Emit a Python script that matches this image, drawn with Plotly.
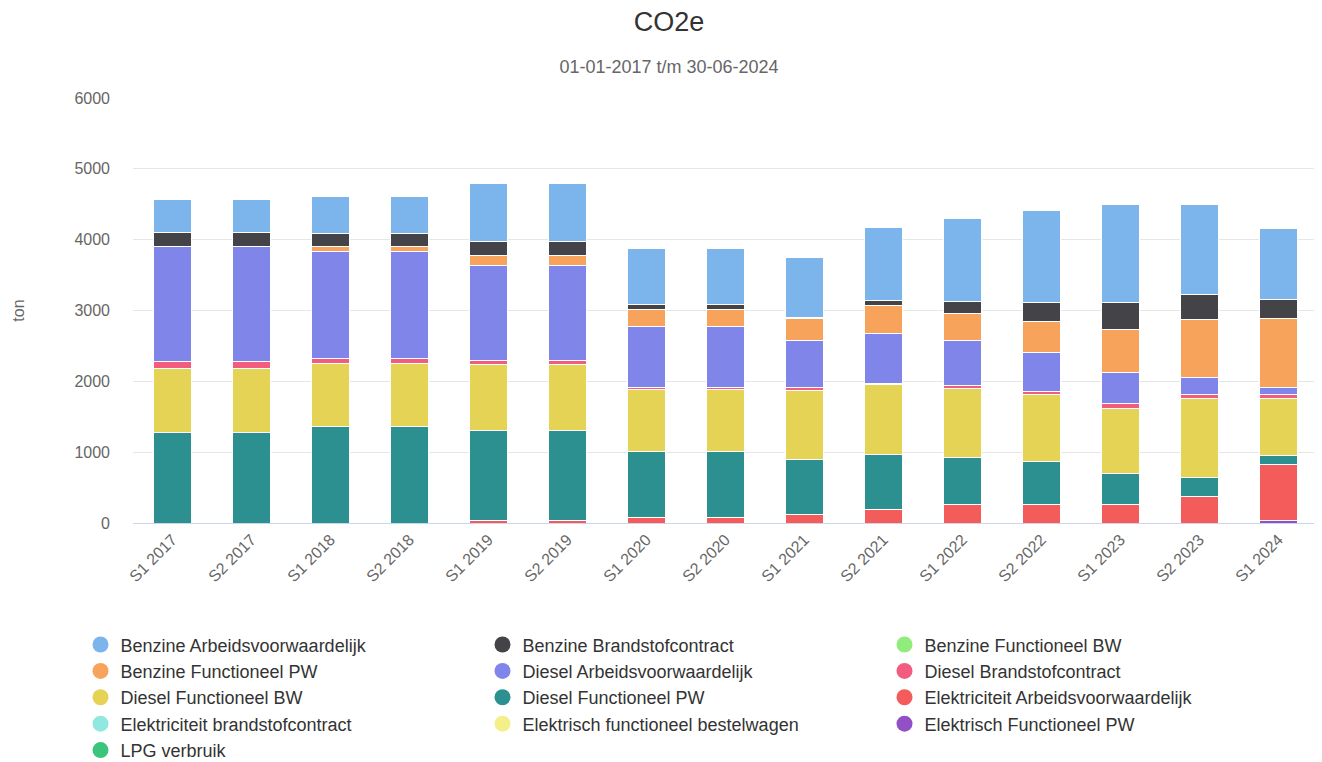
import plotly.graph_objects as go

periods = ["S1 2017", "S2 2017", "S1 2018", "S2 2018", "S1 2019", "S2 2019", "S1 2020", "S2 2020",
           "S1 2021", "S2 2021", "S1 2022", "S2 2022", "S1 2023", "S2 2023", "S1 2024"]

benzine_arbeid = [455, 455, 522, 522, 814, 814, 797, 797, 841, 1036, 1158, 1296, 1384, 1265, 997]
benzine_brandstof = [197, 197, 184, 184, 202, 202, 60, 60, 20, 66, 173, 268, 381, 363, 268]
benzine_func_bw = [0, 0, 0, 0, 0, 0, 0, 0, 0, 0, 0, 0, 0, 0, 0]
benzine_func_pw = [0, 0, 65, 65, 137, 137, 250, 250, 315, 391, 391, 438, 611, 814, 974]
diesel_arbeid = [1635, 1635, 1516, 1516, 1332, 1332, 863, 863, 654, 714, 631, 542, 434, 231, 95]
diesel_brandstof = [90, 90, 65, 65, 70, 70, 20, 20, 48, 10, 47, 40, 65, 61, 61]
diesel_func_bw = [905, 905, 886, 886, 928, 928, 881, 881, 969, 994, 974, 950, 927, 1115, 814]
diesel_func_pw = [1280, 1280, 1369, 1369, 1263, 1263, 927, 927, 772, 771, 654, 607, 428, 273, 113]
elek_arbeid = [0, 0, 0, 0, 40, 40, 80, 80, 127, 193, 264, 264, 264, 372, 798]
elek_brandstof = [0, 0, 0, 0, 0, 0, 0, 0, 0, 0, 0, 0, 0, 0, 0]
elek_bestelwagen = [0, 0, 0, 0, 0, 0, 0, 0, 0, 0, 0, 0, 0, 0, 0]
elek_func_pw = [0, 0, 0, 0, 0, 0, 0, 0, 0, 0, 0, 0, 0, 0, 35]
lpg = [0, 0, 0, 0, 0, 0, 0, 0, 0, 0, 0, 0, 0, 0, 0]

# legend order = top of stack first
series = [
    ("Benzine Arbeidsvoorwaardelijk", benzine_arbeid, "#7cb5ec"),
    ("Benzine Brandstofcontract", benzine_brandstof, "#434348"),
    ("Benzine Functioneel BW", benzine_func_bw, "#90ed7d"),
    ("Benzine Functioneel PW", benzine_func_pw, "#f7a35c"),
    ("Diesel Arbeidsvoorwaardelijk", diesel_arbeid, "#8085e9"),
    ("Diesel Brandstofcontract", diesel_brandstof, "#f15c80"),
    ("Diesel Functioneel BW", diesel_func_bw, "#e4d354"),
    ("Diesel Functioneel PW", diesel_func_pw, "#2b908f"),
    ("Elektriciteit Arbeidsvoorwaardelijk", elek_arbeid, "#f45b5b"),
    ("Elektriciteit brandstofcontract", elek_brandstof, "#91e8e1"),
    ("Elektrisch functioneel bestelwagen", elek_bestelwagen, "#f5ef89"),
    ("Elektrisch Functioneel PW", elek_func_pw, "#9150c6"),
    ("LPG verbruik", lpg, "#3cc47c"),
]

FONT = "Liberation Sans, Arial, Helvetica, sans-serif"

fig = go.Figure()

# bars: bottom of the stack first
for name, vals, color in reversed(series):
    fig.add_trace(go.Bar(x=periods, y=vals, name=name, legendgroup=name, showlegend=False,
                         marker=dict(color=color, line=dict(color="white", width=1))))

# round legend symbols
for name, vals, color in series:
    fig.add_trace(go.Scatter(x=[None], y=[None], mode="markers", name=name, legendgroup=name,
                             marker=dict(symbol="circle", size=16, color=color)))

fig.update_layout(
    width=1322, height=762,
    barmode="stack", bargap=0.53,
    plot_bgcolor="white", paper_bgcolor="white",
    font=dict(family=FONT, color="#333333"),
    margin=dict(l=125, r=12, t=90, b=247, autoexpand=False),
    title=dict(text="CO2e", x=0.5, xanchor="center", y=0.9816, yanchor="middle",
               font=dict(size=27, color="#333333"),
               subtitle=dict(text="01-01-2017 t/m 30-06-2024", font=dict(size=18, color="#666666"))),
    legend=dict(orientation="h", x=-0.0443, xanchor="left", y=-0.243, yanchor="top",
                entrywidth=357, entrywidthmode="pixels", traceorder="normal",
                font=dict(size=18, color="#333333"), itemsizing="trace"),
    showlegend=True,
)

fig.update_yaxes(range=[0, 6000], dtick=1000, gridcolor="#e6e6e6", gridwidth=1,
                 zeroline=False, showline=False,
                 tickfont=dict(size=16, color="#666666"), ticklabelstandoff=22,
                 title=dict(text="ton", font=dict(size=16, color="#666666"), standoff=45))
fig.update_xaxes(showline=True, linecolor="#ccd6eb", linewidth=1, tickangle=-45,
                 tickfont=dict(size=16, color="#666666"), showgrid=False)

fig.write_html("out.html")
